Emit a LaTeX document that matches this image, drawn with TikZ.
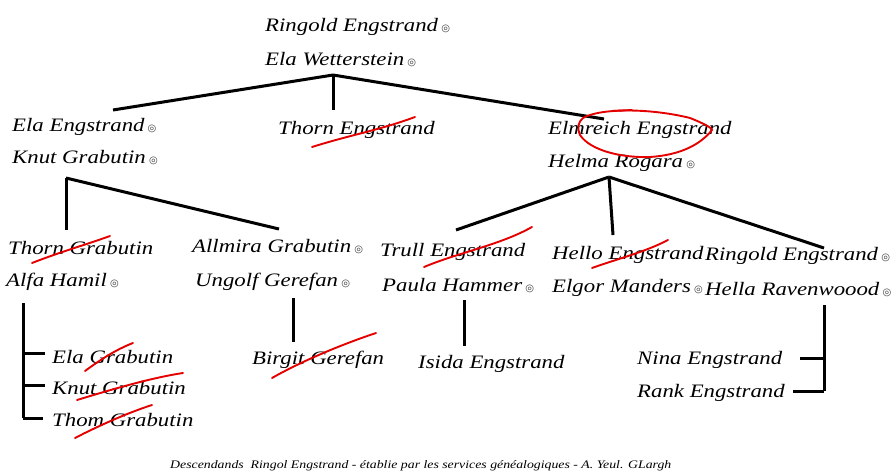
\documentclass[tikz,border=0pt]{standalone}
\usepackage{fontspec}
\newfontfamily\scr[FakeStretch=1.2]{Liberation Serif}
\newfontfamily\symf{DejaVu Sans}
\newcommand\bull{\,{\symf\fontsize{10}{10}\selectfont\textcolor{black!75}{◎}}}
\tikzset{
  person/.style={anchor=west, inner sep=0pt, font=\scr\itshape\fontsize{19}{19}\selectfont},
  link/.style={line width=3pt, black},
  strike/.style={draw=red!90!black, line width=1.9pt, line cap=round},
}
\begin{document}
\begin{tikzpicture}[x=1pt,y=-1pt]
\useasboundingbox[fill=white] (0,0) rectangle (896,476);
% level 1
\node[person] (rE) at (265,27) {Ringold Engstrand\bull};
\node[person] (eW) at (265,60) {Ela Wetterstein\bull};
% level 2
\node[person] (elaE) at (12,127) {Ela Engstrand\bull};
\node[person] (knutG) at (12,158) {Knut Grabutin\bull};
\node[person] (thornE) at (278,130) {Thorn Engstrand};
\node[person] (elmE) at (548,130) {Elmreich Engstrand};
\node[person] (helmaR) at (548,163) {Helma Rogara\bull};
% level 3
\node[person] (thornG) at (8,248) {Thorn Grabutin};
\node[person] (alfaH) at (6,282) {Alfa Hamil\bull};
\node[person] (allmG) at (192,247) {Allmira Grabutin\bull};
\node[person] (ungG) at (195,282) {Ungolf Gerefan\bull};
\node[person] (trullE) at (380,252) {Trull Engstrand};
\node[person] (paulaH) at (382,286) {Paula Hammer\bull};
\node[person] (helloE) at (552,255) {Hello Engstrand};
\node[person] (elgorM) at (552,288) {Elgor Manders\bull};
\node[person] (ringE2) at (705,256) {Ringold Engstrand\bull};
\node[person] (hellaR) at (705,290) {Hella Ravenwoood\bull};
% level 4
\node[person] (elaG) at (52,357) {Ela Grabutin};
\node[person] (knutG2) at (52,388) {Knut Grabutin};
\node[person] (thomG) at (52,420) {Thom Grabutin};
\node[person] (birgitG) at (252,360) {Birgit Gerefan};
\node[person] (isidaE) at (418,364) {Isida Engstrand};
\node[person] (ninaE) at (637,360) {Nina Engstrand};
\node[person] (rankE) at (637,393) {Rank Engstrand};
% footer
\node[anchor=west, inner sep=0pt, font=\scr\itshape\fontsize{11.5}{11.5}\selectfont] (foot) at (170,466)
  {Descendands\ \ Ringol Engstrand - établie\ par les services généalogiques - A. Yeul. GLargh};
% connector points
\coordinate (a1) at (333,75);
\coordinate (a1l) at (113,110);
\coordinate (a1m) at (333,110);
\coordinate (a1r) at (604,119);
\coordinate (a2) at (66,178);
\coordinate (a2d) at (66,230);
\coordinate (a2r) at (279,229);
\coordinate (a3) at (609,177);
\coordinate (a3l) at (456,230);
\coordinate (a3m) at (613,235);
\coordinate (a3r) at (824,248);
\coordinate (b1) at (23,303);
\coordinate (b1e) at (23,418);
\coordinate (t1) at (45,353);
\coordinate (t2) at (45,385);
\coordinate (t3) at (43,418);
\coordinate (b2) at (293,298);
\coordinate (b2e) at (293,342);
\coordinate (b3) at (464,300);
\coordinate (b3e) at (464,346);
\coordinate (b4) at (824,305);
\coordinate (b4e) at (824,391);
\coordinate (u1) at (800,358);
\coordinate (u2) at (793,391);
\draw[link] (a1) -- (a1l);
\draw[link] (a1) -- (a1m);
\draw[link] (a1) -- (a1r);
\draw[link] (a2) -- (a2d);
\draw[link] (a2) -- (a2r);
\draw[link] (a3) -- (a3l);
\draw[link] (a3) -- (a3m);
\draw[link] (a3) -- (a3r);
\draw[link] (b1) -- (b1e);
\draw[link] (b1 |- t1) -- (t1);
\draw[link] (b1 |- t2) -- (t2);
\draw[link] (b1e) -- (t3);
\draw[link] (b2) -- (b2e);
\draw[link] (b3) -- (b3e);
\draw[link] (b4) -- (b4e);
\draw[link] (b4 |- u1) -- (u1);
\draw[link] (b4e) -- (u2);
% red marks
\draw[strike] (312,147) .. controls (350,135) and (380,130) .. (415,117);
\draw[strike] (32,263) .. controls (60,252) and (85,245) .. (110,236);
\draw[strike] (424,267) .. controls (460,252) and (500,245) .. (532,227);
\draw[strike] (592,268) .. controls (620,258) and (645,252) .. (668,240);
\draw[strike] (85,371) .. controls (100,360) and (115,350) .. (133,343);
\draw[strike] (77,400) .. controls (110,390) and (150,378) .. (183,373);
\draw[strike] (75,438) .. controls (100,425) and (130,412) .. (152,405);
\draw[strike] (272,378) .. controls (300,362) and (340,345) .. (376,333);
\draw[strike] (583,118) .. controls (600,108) and (650,108) .. (690,118)
  .. controls (705,124) and (712,128) .. (712,130)
  .. controls (700,145) and (680,155) .. (650,157)
  .. controls (620,158) and (590,150) .. (580,135)
  .. controls (577,128) and (578,122) .. (583,118);
\draw[strike] (612,111) -- (632,110);
\end{tikzpicture}
\end{document}
